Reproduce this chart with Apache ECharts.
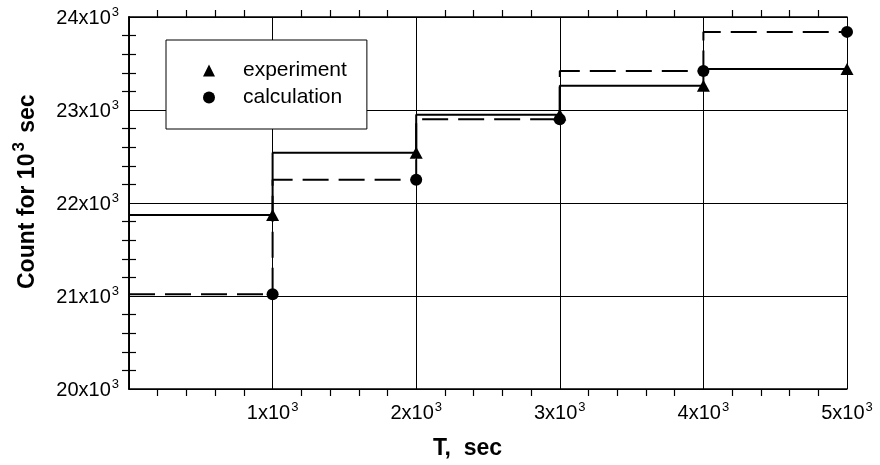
<!DOCTYPE html>
<html>
<head>
<meta charset="utf-8">
<script src="https://cdn.jsdelivr.net/npm/echarts@6/dist/echarts.min.js"></script>
<style>html,body{margin:0;padding:0;background:#fff;}#c{width:880px;height:465px;}</style>
</head>
<body>
<div id="c"></div>
<script>
// Data
const T = [1000, 2000, 3000, 4000, 5000];
const experiment = [21870, 22540, 22950, 23260, 23440];
const calculation = [21020, 22250, 22900, 23420, 23840];
const xTitle = 'T,  sec';
const yTitleParts = ['Count for 10', '3', ' sec'];

const F = '"Liberation Sans", Arial, sans-serif';

function stepData(vals) {
  const d = [[0, vals[0]]];
  T.forEach((t, i) => d.push([t, vals[i]]));
  return d;
}
function pts(vals) { return T.map((t, i) => [t, vals[i]]); }

function sciLabel(v) {
  return '{b|' + Math.round(v / 1000) + 'x10}{s|3}';
}
const rich = {
  b: {fontFamily: F, fontSize: 20, color: '#000', verticalAlign: 'bottom', lineHeight: 22},
  s: {fontFamily: F, fontSize: 13, color: '#000', verticalAlign: 'top', lineHeight: 22, padding: [0, 0, 0, 1]}
};

const chart = echarts.init(document.getElementById('c'));
const axisLine = {show: true, lineStyle: {color: '#000', width: 1.6}};
const minor = {show: true, splitNumber: 5, length: 7, lineStyle: {color: '#000', width: 1.2}};
chart.setOption({
  animation: false,
  backgroundColor: '#fff',
  grid: {left: 129, right: 33, top: 17, bottom: 76, containLabel: false},
  legend: {
    show: true,
    orient: 'vertical',
    left: 166, top: 40,
    padding: [20, 20, 21, 37],
    borderColor: '#000', borderWidth: 1,
    backgroundColor: '#fff',
    itemWidth: 12, itemHeight: 12,
    itemGap: 6,
    textStyle: {fontFamily: F, fontSize: 21, color: '#000', lineHeight: 21, padding: [0, 0, 0, 23]},
    data: [{name: 'experiment', icon: 'triangle'}, {name: 'calculation', icon: 'circle'}]
  },
  graphic: [
    {
      type: 'text', left: 433, top: 437,
      style: {text: xTitle, font: 'bold 23px ' + F, fill: '#000'}
    },
    {
      type: 'text', x: 11, y: 289, rotation: Math.PI / 2,
      style: {
        text: '{t|' + yTitleParts[0] + '}{s|' + yTitleParts[1] + '}{t|' + yTitleParts[2] + '}',
        rich: {
          t: {fontFamily: F, fontSize: 23, fontWeight: 'bold', fill: '#000', verticalAlign: 'bottom', lineHeight: 28},
          s: {fontFamily: F, fontSize: 17, fontWeight: 'bold', fill: '#000', verticalAlign: 'top', lineHeight: 28, padding: [0, 3, 0, 2]}
        }
      }
    }
  ],
  xAxis: [{
    type: 'value', min: 0, max: 5000, interval: 1000,
    axisLine: axisLine,
    axisTick: {show: false},
    minorTick: minor,
    axisLabel: {margin: 12, formatter: v => v === 0 ? '' : sciLabel(v), rich: rich},
    splitLine: {show: true, lineStyle: {color: '#000', width: 1}}
  }, {
    type: 'value', position: 'top', min: 0, max: 5000, interval: 1000,
    axisLine: axisLine,
    axisTick: {show: false},
    minorTick: minor,
    axisLabel: {show: false},
    splitLine: {show: false}
  }],
  yAxis: [{
    type: 'value', min: 20000, max: 24000, interval: 1000,
    axisLine: axisLine,
    axisTick: {show: false},
    minorTick: minor,
    axisLabel: {margin: 10, formatter: v => sciLabel(v), rich: rich},
    splitLine: {show: true, lineStyle: {color: '#000', width: 1}}
  }, {
    type: 'value', position: 'right', min: 20000, max: 24000, interval: 1000,
    axisLine: axisLine,
    axisTick: {show: false},
    minorTick: minor,
    axisLabel: {show: false},
    splitLine: {show: false}
  }],
  series: [
    {
      name: 'exp-step', type: 'line', step: 'start', showSymbol: false, symbol: 'none',
      data: stepData(experiment),
      lineStyle: {color: '#000', width: 2}, z: 3
    },
    {
      name: 'calc-step', type: 'line', step: 'start', showSymbol: false, symbol: 'none',
      data: stepData(calculation),
      lineStyle: {color: '#000', width: 2, type: [26, 10]}, z: 3
    },
    {
      name: 'experiment', type: 'scatter', symbol: 'triangle', symbolSize: [13, 12],
      data: pts(experiment), itemStyle: {color: '#000', opacity: 1}, z: 4
    },
    {
      name: 'calculation', type: 'scatter', symbol: 'circle', symbolSize: 12,
      data: pts(calculation), itemStyle: {color: '#000', opacity: 1}, z: 5
    }
  ]
});
</script>
</body>
</html>
